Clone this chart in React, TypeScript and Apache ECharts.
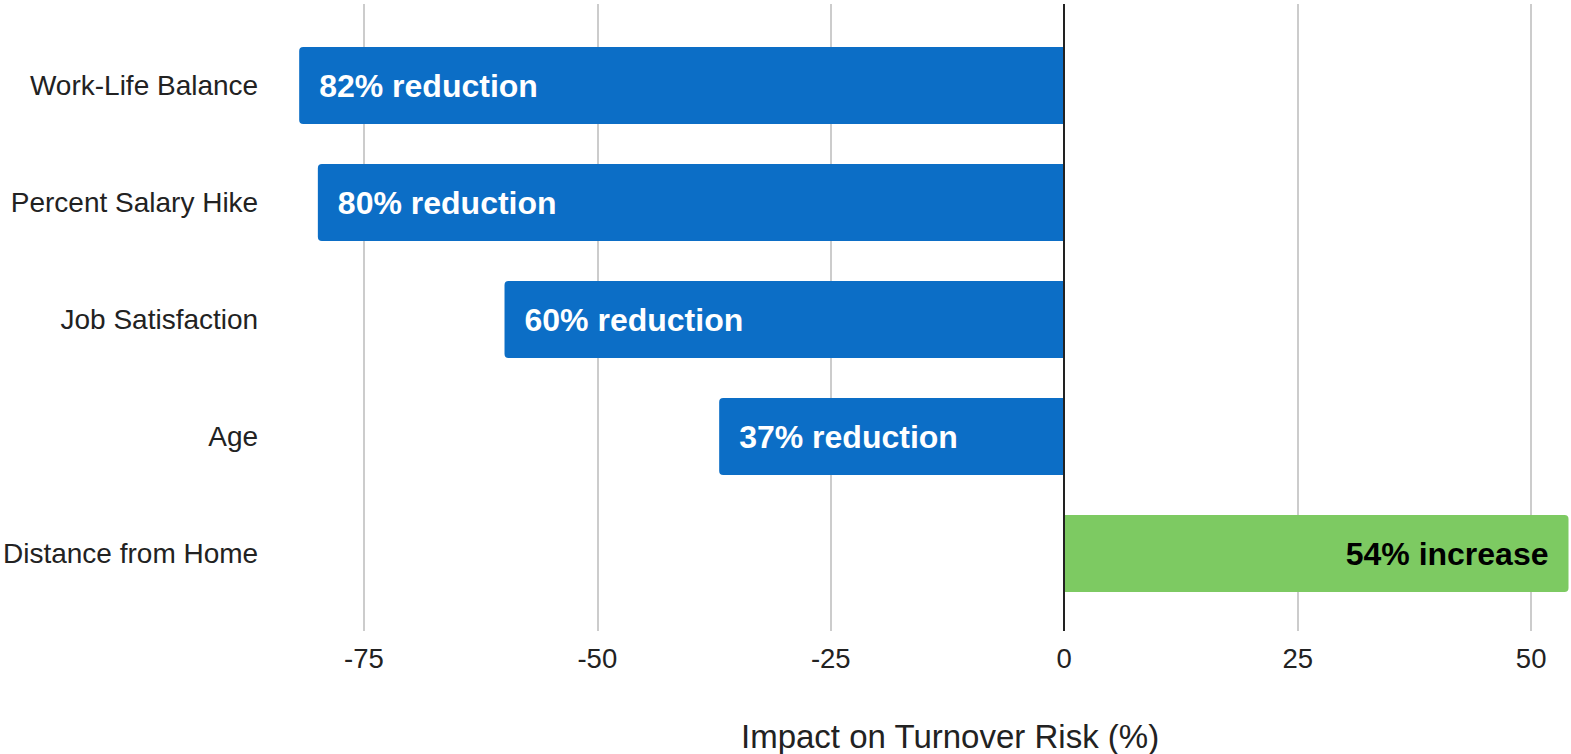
import React, { useEffect, useRef } from "react";
import * as echarts from "echarts";

const categories = [
  "Work-Life Balance",
  "Percent Salary Hike",
  "Job Satisfaction",
  "Age",
  "Distance from Home",
];
const impactValues = [-82, -80, -60, -37, 54];
const barLabels = [
  "82% reduction",
  "80% reduction",
  "60% reduction",
  "37% reduction",
  "54% increase",
];
const tickValues = [-75, -50, -25, 0, 25, 50];
const axisTitle = "Impact on Turnover Risk (%)";

const FONT = "Arial, 'Liberation Sans', Helvetica, sans-serif";
const X_MIN = -82;
const X_MAX = 54;
const LEFT = 298.5;
const RIGHT = 2.5;

export default function App() {
  const ref = useRef<HTMLDivElement>(null);
  useEffect(() => {
    if (!ref.current) return;
    const chart = echarts.init(ref.current, null, { renderer: "svg" });
    const blue = "#0c6ec6";
    const green = "#7dca62";
    chart.setOption({
      animation: false,
      backgroundColor: "#ffffff",
      textStyle: { fontFamily: FONT },
      grid: [
        { left: LEFT, right: RIGHT, top: 4, bottom: 123 },
        { left: LEFT, right: RIGHT, top: 27, bottom: 142 },
      ],
      xAxis: [
        {
          gridIndex: 0,
          type: "value",
          min: X_MIN,
          max: X_MAX,
          axisLine: { show: false },
          axisTick: { show: false },
          splitLine: { show: false },
          axisLabel: {
            customValues: tickValues,
            fontSize: 27.5,
            color: "#222",
            fontFamily: FONT,
            margin: 13,
          },
        },
        {
          gridIndex: 1,
          type: "value",
          min: X_MIN,
          max: X_MAX,
          axisLine: { show: false },
          axisTick: { show: false },
          splitLine: { show: false },
          axisLabel: { show: false },
        },
      ],
      yAxis: [
        {
          gridIndex: 0,
          type: "value",
          min: 0,
          max: 1,
          show: false,
        },
        {
          gridIndex: 1,
          type: "category",
          inverse: true,
          data: categories,
          axisLine: { show: false },
          axisTick: { show: false },
          axisLabel: {
            fontSize: 28,
            color: "#222",
            fontFamily: FONT,
            margin: 41,
          },
        },
      ],
      series: [
        {
          type: "scatter",
          xAxisIndex: 0,
          yAxisIndex: 0,
          symbolSize: 0,
          silent: true,
          z: 1,
          data: tickValues.filter((v) => v !== 0).map((v) => [v, 0]),
          markLine: {
            silent: true,
            z: 1,
            symbol: "none",
            label: { show: false },
            lineStyle: { color: "#cccccc", width: 2, type: "solid" },
            data: tickValues.filter((v) => v !== 0).map((v) => ({ xAxis: v })),
          },
        },
        {
          type: "bar",
          xAxisIndex: 1,
          yAxisIndex: 1,
          barWidth: 77,
          z: 3,
          data: impactValues.map((v, i) => ({
            value: v,
            itemStyle: {
              color: v < 0 ? blue : green,
              borderRadius: v < 0 ? [4, 0, 0, 4] : [0, 4, 4, 0],
            },
            label: {
              show: true,
              formatter: barLabels[i],
              position: v < 0 ? "insideLeft" : "insideRight",
              distance: 20,
              color: v < 0 ? "#ffffff" : "#000000",
              fontSize: 32,
              fontWeight: "bold",
              fontFamily: FONT,
            },
          })),
        },
        {
          type: "scatter",
          xAxisIndex: 0,
          yAxisIndex: 0,
          symbolSize: 0,
          silent: true,
          z: 6,
          data: [[0, 0]],
          markLine: {
            silent: true,
            z: 6,
            symbol: "none",
            label: { show: false },
            lineStyle: { color: "#222222", width: 2, type: "solid" },
            data: [{ xAxis: 0 }],
          },
        },
      ],
      graphic: [
        {
          type: "text",
          left: 741,
          top: 720,
          style: {
            text: axisTitle,
            fontSize: 33,
            fill: "#222",
            fontFamily: FONT,
          },
        },
      ],
    });
    return () => chart.dispose();
  }, []);
  return (
    <div
      ref={ref}
      style={{ position: "fixed", left: 0, top: 0, width: 1571, height: 754 }}
    />
  );
}
